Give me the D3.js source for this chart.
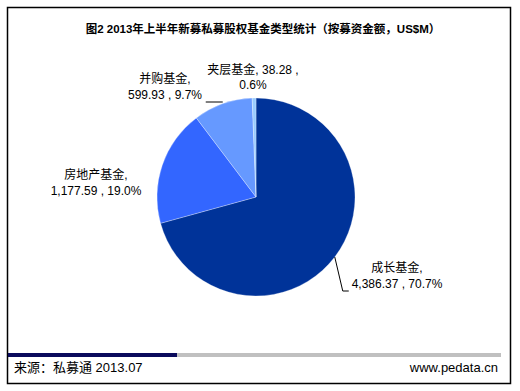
<!DOCTYPE html>
<html>
<head>
<meta charset="utf-8">
<script src="https://cdn.jsdelivr.net/npm/d3@7"></script>
<style>
  body { margin: 0; background: #fff; }
  text { font-family: "Liberation Sans", Arial, "Noto Sans CJK SC", sans-serif; }
</style>
</head>
<body>
<div id="chart"></div>
<script>
// data
const categories = ["成长基金", "房地产基金", "并购基金", "夹层基金"];
const amounts = [4386.37, 1177.59, 599.93, 38.28];
const shares = ["70.7%", "19.0%", "9.7%", "0.6%"];
const colors = ["#003399", "#3366ff", "#6699ff", "#99ccff"];

const width = 520, height = 391;
const cx = 256, cy = 197, r = 99;

const svg = d3.select("#chart").append("svg")
  .attr("width", width)
  .attr("height", height);

// frame
svg.append("rect")
  .attr("x", 7.5).attr("y", 7.5)
  .attr("width", 503).attr("height", 376)
  .attr("fill", "#fff")
  .attr("stroke", "#000")
  .attr("stroke-width", 1.5);

svg.append("text")
  .attr("x", 263).attr("y", 33)
  .attr("text-anchor", "middle")
  .style("font-size", "11.5px")
  .style("font-weight", "bold")
  .text("图2 2013年上半年新募私募股权基金类型统计（按募资金额，US$M）");

const data = categories.map((c, i) => ({name: c, value: amounts[i], share: shares[i], color: colors[i]}));

const pie = d3.pie().sort(null).value(d => d.value);
const arc = d3.arc().innerRadius(0).outerRadius(r);
const arcs = pie(data);

const g = svg.append("g").attr("transform", `translate(${cx},${cy})`);
g.selectAll("path")
  .data(arcs)
  .enter().append("path")
    .attr("d", arc)
    .attr("fill", d => d.data.color)
    .attr("stroke", "#fff")
    .attr("stroke-width", 0.3);

// label placement (offsets from pie centre) and leader lines
const labelPos = [[141, 75], [-160, -18], [-91, -114], [-3, -123]];
const fmt = d3.format(",.2f");

g.selectAll("text.lbl")
  .data(arcs)
  .enter().append("text")
    .attr("class", "lbl")
    .attr("text-anchor", "middle")
    .style("font-size", "12px")
    .attr("fill", "#000")
    .each(function(d, i) {
      const t = d3.select(this);
      const [x, y] = labelPos[i];
      if (i === 3) {
        t.append("tspan").attr("x", x).attr("y", y).text(`${d.data.name}, ${fmt(d.data.value)} ,`);
        t.append("tspan").attr("x", x).attr("y", y + 15).text(d.data.share);
      } else {
        t.append("tspan").attr("x", x).attr("y", y).text(`${d.data.name},`);
        t.append("tspan").attr("x", x).attr("y", y + 16).text(`${fmt(d.data.value)} , ${d.data.share}`);
      }
    });

// leader lines for 成长基金 and 并购基金
const edge = d => {
  const a = (d.startAngle + d.endAngle) / 2;
  return [r * Math.sin(a), -r * Math.cos(a)];
};
const growthEdge = edge(arcs[0]);
const buyEdge = edge(arcs[2]);
const line = d3.line();
g.append("path")
  .attr("d", line([growthEdge, [growthEdge[0] + 8, 94], [growthEdge[0] + 14, 94]]))
  .attr("fill", "none").attr("stroke", "#000").attr("stroke-width", 1);
g.append("path")
  .attr("d", line([[buyEdge[0] - 17, -95], [buyEdge[0], -95]]))
  .attr("fill", "none").attr("stroke", "#000").attr("stroke-width", 1);

// footer bar
svg.append("rect").attr("x", 8).attr("y", 353).attr("width", 493).attr("height", 4).attr("fill", "#c0c0c0");
svg.append("rect").attr("x", 8).attr("y", 353).attr("width", 169).attr("height", 4).attr("fill", "#0a0a5c");

svg.append("text")
  .attr("x", 14).attr("y", 372)
  .style("font-size", "13px")
  .text("来源：私募通 2013.07");
svg.append("text")
  .attr("x", 498).attr("y", 372)
  .attr("text-anchor", "end")
  .style("font-size", "13px")
  .text("www.pedata.cn");
</script>
</body>
</html>
